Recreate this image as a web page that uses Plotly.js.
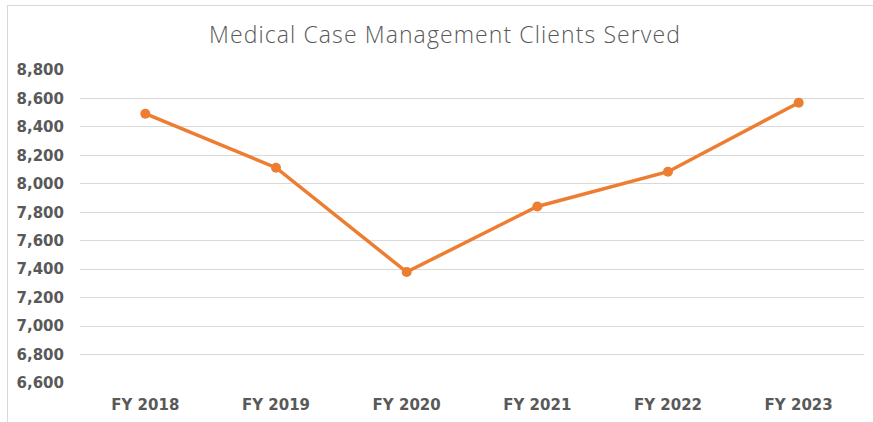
<!DOCTYPE html>
<html>
<head>
<meta charset="utf-8">
<script src="https://cdn.plot.ly/plotly-3.0.1.min.js"></script>
<style>
  html, body { margin: 0; padding: 0; background: #ffffff; overflow: hidden; }
  #chart { position: absolute; left: 0; top: 0; width: 873px; height: 422px; }
  #frame { position: absolute; left: 7px; top: 5px; width: 900px; height: 450px; border: 1px solid #d9d9d9; pointer-events: none; }
  .gtitle { letter-spacing: 1.1px; }
</style>
</head>
<body>
<div id="chart"></div>
<div id="frame"></div>
<script>
const categories = ["FY 2018", "FY 2019", "FY 2020", "FY 2021", "FY 2022", "FY 2023"];
const clientsServed = [8493, 8113, 7380, 7841, 8085, 8570];
const yTickValues = [6600, 6800, 7000, 7200, 7400, 7600, 7800, 8000, 8200, 8400, 8600, 8800];
const chartTitle = "Medical Case Management Clients Served";

const trace = {
  type: "scatter",
  mode: "lines+markers",
  x: categories,
  y: clientsServed,
  line: { color: "#ED7D31", width: 3.5 },
  marker: { color: "#ED7D31", size: 10 },
  hoverinfo: "x+y"
};

const tickFont = { family: "DejaVu Sans", size: 15, color: "#595959", weight: 700 };

const layout = {
  width: 873,
  height: 422,
  margin: { l: 80, r: 9, t: 70, b: 39 },
  paper_bgcolor: "#ffffff",
  plot_bgcolor: "#ffffff",
  showlegend: false,
  title: {
    text: chartTitle,
    x: 445 / 873,
    xanchor: "center",
    xref: "container",
    y: 1 - 35 / 422,
    yanchor: "middle",
    yref: "container",
    font: { family: "Open Sans", size: 23, color: "#595959", weight: 300 }
  },
  xaxis: {
    type: "category",
    range: [-0.5, categories.length - 0.5],
    showgrid: false,
    showline: false,
    zeroline: false,
    ticks: "",
    tickfont: tickFont,
    ticklabelstandoff: 11
  },
  yaxis: {
    range: [6600, 8800],
    tickvals: yTickValues,
    tickformat: ",d",
    showgrid: true,
    gridcolor: "#d9d9d9",
    gridwidth: 1,
    zeroline: false,
    showline: false,
    ticks: "",
    tickfont: tickFont,
    ticklabelstandoff: 15
  }
};

Plotly.newPlot("chart", [trace], layout, { displayModeBar: false, staticPlot: true });
</script>
</body>
</html>
